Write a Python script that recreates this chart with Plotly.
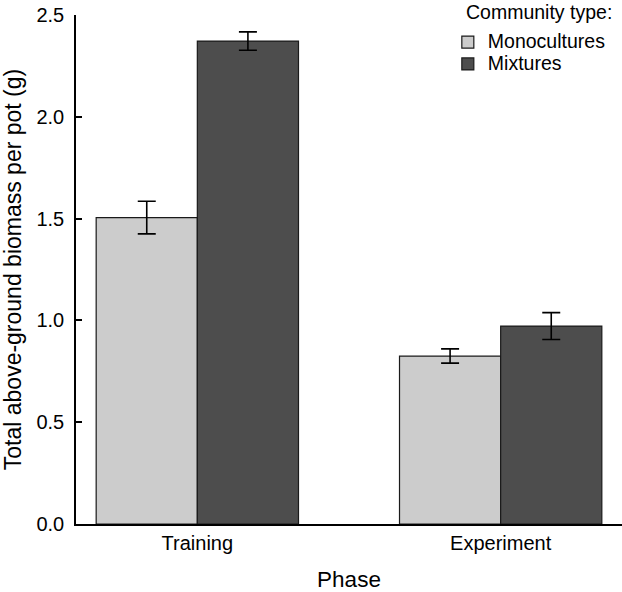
import plotly.graph_objects as go

phases = ["Training", "Experiment"]
mono_vals = [1.505, 0.825]
mono_err = [0.080, 0.035]
mix_vals = [2.372, 0.972]
mix_err = [0.045, 0.066]
y_ticks = [0.0, 0.5, 1.0, 1.5, 2.0, 2.5]
series_names = ["Monocultures", "Mixtures"]
legend_title = "Community type:"

FONT = "Liberation Sans, Arial, sans-serif"


def big(txt):
    return "<span style='font-size:19.5px'>" + txt + "</span>"


fig = go.Figure()
fig.add_trace(go.Bar(
    x=phases, y=mono_vals, name=big(series_names[0]),
    marker=dict(color="#cccccc", line=dict(color="#1a1a1a", width=1.2)),
    error_y=dict(type="data", array=mono_err, color="#000000", thickness=1.6, width=9),
))
fig.add_trace(go.Bar(
    x=phases, y=mix_vals, name=big(series_names[1]),
    marker=dict(color="#4d4d4d", line=dict(color="#1a1a1a", width=1.2)),
    error_y=dict(type="data", array=mix_err, color="#000000", thickness=1.6, width=9),
))

fig.update_layout(
    width=622, height=592,
    margin=dict(l=76, r=0, t=15, b=68),
    paper_bgcolor="white", plot_bgcolor="white",
    font=dict(family=FONT, size=20, color="#000000"),
    barmode="group", bargap=0.333, bargroupgap=0,
    showlegend=True,
    legend=dict(
        x=0.681, y=0.978, xanchor="left", yanchor="top",
        bgcolor="rgba(0,0,0,0)", font=dict(size=14.5, family=FONT, color="#000000"),
        itemwidth=30, tracegroupgap=0,
    ),
    annotations=[dict(
        text=legend_title, xref="paper", yref="paper",
        x=0.9853, y=1.0059, xanchor="right", yanchor="middle",
        showarrow=False, font=dict(size=19.5, family=FONT),
    )],
)
fig.update_xaxes(
    type="category", range=[-0.4, 1.4],
    showline=True, linecolor="#000000", linewidth=1.5,
    ticks="", showgrid=False, zeroline=False,
    tickfont=dict(size=20, family=FONT),
    title=dict(text="Phase", font=dict(size=22.5, family=FONT), standoff=18),
)
fig.update_yaxes(
    range=[0, 2.5], tickvals=y_ticks, tickformat=".1f",
    showline=True, linecolor="#000000", linewidth=1.5,
    ticks="inside", ticklen=6, tickwidth=1.5, tickcolor="#000000",
    showgrid=False, zeroline=False,
    tickfont=dict(size=20, family=FONT),
    ticklabelstandoff=6,
    title=dict(text="Total above-ground biomass per pot (g)", font=dict(size=23, family=FONT), standoff=12),
)

fig.write_html(
    "out.html",
    config={"displayModeBar": False},
    post_script="document.body.style.margin='0';document.body.style.padding='0';",
)
